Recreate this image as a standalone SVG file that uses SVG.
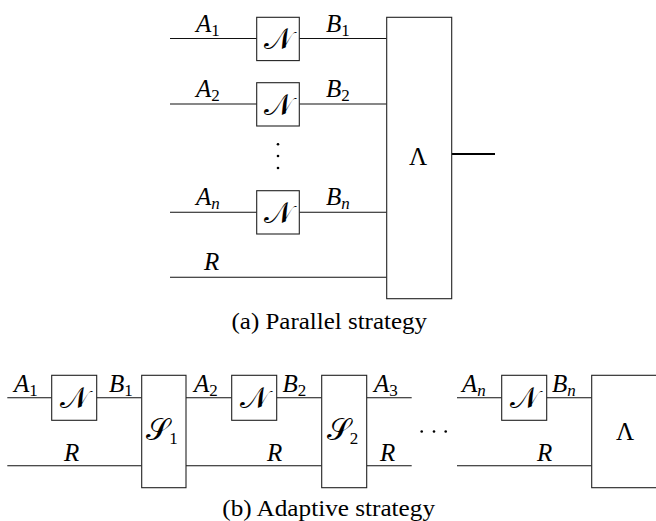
<svg xmlns="http://www.w3.org/2000/svg" width="656" height="521" viewBox="0 0 656 521">
<style>
text{font-family:"Liberation Serif","Times New Roman",serif;fill:#000}
.w{stroke:#111;stroke-width:1.1;fill:none}
.b{stroke:#222;stroke-width:1.1;fill:#fff}
.m{font-style:italic;font-size:25px}
.u{font-size:25px}
.c{font-size:22.5px}
.s{font-style:normal;font-size:17px}
.si{font-style:italic;font-size:17px}
.cal{font-size:30px}
</style>
<rect width="656" height="521" fill="#fff"/>
<g id="connectors">
<path class="w" d="M170 38.5H257M299.3 38.5H386.7M170 104H257M299.3 104H386.7M170 212.3H257M299.3 212.3H386.7M170 277.3H386.7"/>
<path d="M451.7 154H495" stroke="#000" stroke-width="2"/>
<path class="w" d="M7.3 397.7H51.7M96.7 397.7H141.7M186 397.7H231.7M276.7 397.7H321.7M366.7 397.7H411.7M457 397.7H501.7M546.7 397.7H591.7"/>
<path class="w" d="M7.3 465.7H141.7M186 465.7H321.7M366.7 465.7H411.7M457 465.7H591.7"/>
</g>
<g id="labels-a">
<text class="m" x="196" y="31.5">A<tspan class="s" dy="4">1</tspan></text>
<text class="m" x="326" y="31.5">B<tspan class="s" dy="4">1</tspan></text>
<text class="m" x="196" y="97">A<tspan class="s" dy="4">2</tspan></text>
<text class="m" x="326" y="97">B<tspan class="s" dy="4">2</tspan></text>
<text class="m" x="196" y="205">A<tspan class="si" dy="4">n</tspan></text>
<text class="m" x="326" y="205">B<tspan class="si" dy="4">n</tspan></text>
<text class="m" x="204" y="270">R</text>
<circle cx="278" cy="144.3" r="1.3"/>
<circle cx="278" cy="156" r="1.3"/>
<circle cx="278" cy="168" r="1.3"/>
</g>
<g id="N1a"><rect class="b" x="256.7" y="17.3" width="42.6" height="43.3"/><text class="cal" x="278" y="49" text-anchor="middle">𝒩</text></g>
<g id="N2a"><rect class="b" x="256.7" y="82.7" width="42.6" height="43.3"/><text class="cal" x="278" y="114.5" text-anchor="middle">𝒩</text></g>
<g id="Nna"><rect class="b" x="256.7" y="190.7" width="42.6" height="43.3"/><text class="cal" x="278" y="222.5" text-anchor="middle">𝒩</text></g>
<g id="LambdaA"><rect class="b" x="386.7" y="17.3" width="65" height="281.4"/><text class="u" x="418" y="164.5" text-anchor="middle">Λ</text></g>
<text class="c" x="231.5" y="329" textLength="195.5" lengthAdjust="spacingAndGlyphs">(a) Parallel strategy</text>
<g id="labels-b">
<text class="m" x="14" y="392.3">A<tspan class="s" dy="4">1</tspan></text>
<text class="m" x="109" y="392.3">B<tspan class="s" dy="4">1</tspan></text>
<text class="m" x="194" y="392.3">A<tspan class="s" dy="4">2</tspan></text>
<text class="m" x="282.5" y="392.3">B<tspan class="s" dy="4">2</tspan></text>
<text class="m" x="374" y="392.3">A<tspan class="s" dy="4">3</tspan></text>
<text class="m" x="462" y="392.3">A<tspan class="si" dy="4">n</tspan></text>
<text class="m" x="552" y="392.3">B<tspan class="si" dy="4">n</tspan></text>
<text class="m" x="64" y="460.7">R</text>
<text class="m" x="267" y="460.7">R</text>
<text class="m" x="380" y="460.7">R</text>
<text class="m" x="537" y="460.7">R</text>
<circle cx="421.7" cy="431.5" r="1.3"/>
<circle cx="434" cy="431.5" r="1.3"/>
<circle cx="445.7" cy="431.5" r="1.3"/>
</g>
<g id="N1b"><rect class="b" x="51.7" y="375.3" width="45" height="45"/><text class="cal" x="74.2" y="408" text-anchor="middle">𝒩</text></g>
<g id="S1"><rect class="b" x="141.7" y="375.3" width="44.3" height="112.4"/><text class="cal" x="162" y="440" text-anchor="middle">𝒮<tspan class="s" dy="4">1</tspan></text></g>
<g id="N2b"><rect class="b" x="231.7" y="375.3" width="45" height="45"/><text class="cal" x="254.2" y="408" text-anchor="middle">𝒩</text></g>
<g id="S2"><rect class="b" x="321.7" y="375.3" width="45" height="112.4"/><text class="cal" x="342.5" y="440" text-anchor="middle">𝒮<tspan class="s" dy="4">2</tspan></text></g>
<g id="Nnb"><rect class="b" x="501.7" y="375.3" width="45" height="45"/><text class="cal" x="524.2" y="408" text-anchor="middle">𝒩</text></g>
<g id="LambdaB"><rect class="b" x="591.7" y="375.3" width="70" height="112.4"/><text class="u" x="625" y="440" text-anchor="middle">Λ</text></g>
<text class="c" x="222.3" y="516" textLength="212.7" lengthAdjust="spacingAndGlyphs">(b) Adaptive strategy</text>
</svg>
